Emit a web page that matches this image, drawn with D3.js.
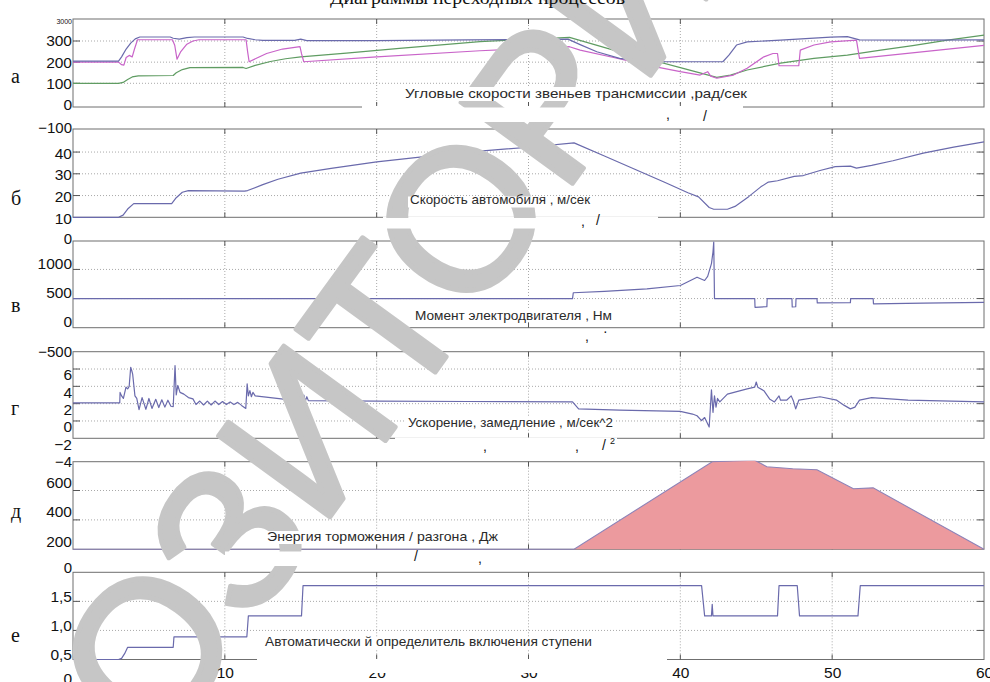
<!DOCTYPE html>
<html><head><meta charset="utf-8">
<script src="https://cdn.jsdelivr.net/npm/d3@7/dist/d3.min.js"></script>
<style>
html,body{margin:0;padding:0;background:#fff;}
svg{display:block;}
</style></head>
<body>
<svg id="chart" width="990" height="682"></svg>
<script>
// ================= DATA =================
const timeTicks = [10, 20, 30, 40, 50, 60];
const gridTimes = [10, 20, 30, 40, 50];
const panelLetters = ["а", "б", "в", "г", "д", "е"];
const panelCaptions = [
  "Угловые скорости звеньев трансмиссии ,рад/сек",
  "Скорость автомобиля , м/сек",
  "Момент электродвигателя , Нм",
  "Ускорение, замедление , м/сек^2",
  "Энергия торможения / разгона , Дж",
  "Автоматически й определитель включения ступени"
];
const topStrayLabels = ["3000", "−100", "0", "−500", "−4", "0"];

// panel а : angular speeds [time s, rad/s]
const omegaTicks = [0, 100, 200, 300];
const omegaBlue = [[0,205],[3.0,205],[3.2,225],[3.5,262],[3.8,290],[4.1,310],[4.4,319],[6.4,319],[6.6,313],[7.0,309],[7.5,316],[8.0,319],[11.2,319],[11.5,312],[12.0,306],[12.5,303],[14.6,303],[15.0,309],[15.4,302],[20,302],[26,305],[31,308],[32.6,309],[33.4,283],[34.5,249],[36.0,218],[37.4,205],[39.1,202],[42.8,202],[43.2,233],[43.7,281],[44.4,296],[46.6,304],[49.9,318],[51.0,321],[51.8,305],[55.3,304],[60,305]];
const omegaMagenta = [[0,200],[3.0,200],[3.2,188],[3.35,186],[3.5,222],[3.7,232],[3.9,225],[4.05,262],[4.25,306],[6.55,306],[6.7,280],[6.85,214],[7.1,250],[7.5,285],[7.9,300],[8.3,306],[11.4,306],[11.5,250],[11.6,202],[12.75,241],[13.8,262],[14.95,273],[15.05,240],[15.2,202],[20,225],[26.8,254],[32.7,273],[33.4,257],[35.6,222],[37.8,186],[40,155],[41.3,139],[41.8,155],[42.0,134],[42.4,124],[43.5,139],[44.4,171],[45.5,225],[46.1,241],[46.4,241],[46.5,183],[47.8,183],[47.9,257],[48.8,281],[49.9,296],[51.6,304],[51.8,218],[60,279]];
const omegaGreen = [[0,100],[3.0,100],[3.3,104],[3.6,118],[3.9,130],[4.3,135],[6.6,137],[6.8,150],[7.2,165],[7.7,174],[11.2,175],[11.4,170],[12.0,185],[13.0,203],[14.0,216],[15.0,225],[18,243],[21.5,265],[26.8,297],[32.7,317],[35.6,257],[37.8,216],[40,174],[42.4,128],[43.3,139],[44.4,163],[46.6,195],[48.8,218],[51,233],[53.2,257],[55.3,278],[57.6,304],[60,328]];

// panel б : vehicle speed
const speedTicks = [10, 20, 30, 40];
const carSpeed = [[0,10],[3.0,10],[3.3,11],[3.6,13.8],[4.0,16.3],[6.5,16.3],[6.8,19],[7.2,21.5],[7.6,22.3],[11.3,22],[11.5,22.3],[12.5,25],[13.5,27.5],[15,30.3],[17,32.5],[20,35.5],[23,37.8],[26,40],[30,42.2],[33,44.2],[35,38.2],[37,32.1],[39,26],[40.5,21.3],[41.2,19.4],[41.9,14.5],[42.2,13.7],[43.1,13.7],[43.6,15],[44.5,19.5],[45.3,24],[45.8,26.2],[46.4,26.8],[47.5,28.8],[48.1,29.2],[49.2,31.5],[50.2,33.3],[51.2,33.5],[51.6,32.6],[52.6,33.9],[54,36],[56,39.5],[58,42.3],[60,44.7]];

// panel в : motor torque
const torqueTicks = [0, 500, 1000];
const motorTorque = [[0,500],[32.9,500],[32.95,600],[35,625],[37.8,667],[40,724],[41.1,867],[41.6,810],[41.8,880],[42.05,1100],[42.15,1300],[42.2,1470],[42.25,500],[44.9,500],[44.92,350],[45.7,362],[45.72,500],[47.35,500],[47.37,355],[47.6,360],[47.62,500],[49.0,500],[49.02,425],[51.2,430],[51.22,500],[52.7,500],[52.72,410],[56,422],[60,436]];

// panel г : acceleration
const accelTicks = [-2, 0, 2, 4, 6];
const acceleration = [[0,2.1],[3.08,2.1],[3.1,3.3],[3.2,2.9],[3.32,2.6],[3.49,3.9],[3.6,3.7],[3.7,4.0],[3.8,6.2],[3.87,5.8],[3.93,5.4],[4.08,2.9],[4.2,2.6],[4.35,1.3],[4.55,2.7],[4.8,1.35],[5.0,2.6],[5.2,1.45],[5.45,2.5],[5.65,1.55],[5.85,2.45],[6.05,1.6],[6.25,2.4],[6.45,1.7],[6.6,1.65],[6.72,6.4],[6.8,3.0],[6.9,4.1],[7.05,3.3],[7.3,3.1],[7.6,2.7],[7.9,2.55],[8.1,1.9],[8.35,2.3],[8.6,1.85],[8.85,2.3],[9.1,1.85],[9.35,2.3],[9.6,1.9],[9.85,2.25],[10.1,1.9],[10.35,2.2],[10.6,1.9],[10.85,2.15],[11.1,1.8],[11.38,1.45],[11.47,4.3],[11.55,2.9],[11.65,3.5],[11.75,2.8],[11.85,3.3],[12.0,2.9],[13,2.7],[14,2.5],[14.6,2.4],[14.95,1.8],[15.1,2.0],[15.2,3.0],[15.3,2.3],[15.4,2.8],[15.5,2.35],[20,2.3],[26,2.25],[32.9,2.2],[33.3,1.4],[36,1.25],[40,1.1],[40.8,0.8],[41.1,0.6],[41.4,0.05],[41.6,0.4],[41.9,-0.7],[42.05,3.6],[42.15,1.0],[42.25,2.9],[42.35,1.6],[42.45,2.6],[42.6,2.2],[43.1,3.1],[44.4,3.7],[44.9,3.9],[45.0,4.5],[45.1,3.9],[45.5,3.5],[45.9,2.5],[46.2,2.2],[46.5,2.9],[46.6,2.4],[47.0,2.4],[47.3,2.9],[47.45,2.3],[47.6,1.4],[47.8,2.4],[49.2,2.8],[50.3,2.4],[50.8,1.8],[51.2,1.4],[51.5,1.6],[51.8,2.4],[52.6,2.7],[55,2.4],[60,2.2]];

// panel д : braking / acceleration energy
const energyTicks = [200, 400, 600];
const brakingEnergy = [[0,200],[33.0,200],[42.1,796],[44.9,806],[45.7,762],[47.4,748],[49.0,741],[51.4,612],[52.7,618],[60,200]];

// panel е : automatic gear selector
const gearTicks = [0.5, 1.0, 1.5];
const gearTickLabels = ["0,5", "1,0", "1,5"];
const gearSelector = [[0,0.5],[3.0,0.5],[3.2,0.52],[3.4,0.6],[3.6,0.71],[6.6,0.71],[6.65,0.89],[11.45,0.89],[11.55,1.25],[15.05,1.25],[15.15,1.77],[41.4,1.77],[41.6,1.25],[42.05,1.25],[42.1,1.45],[42.15,1.25],[46.4,1.25],[46.5,1.77],[47.7,1.77],[47.85,1.25],[51.7,1.25],[51.85,1.77],[60,1.77]];

// ================= LAYOUT / STYLE =================
const FONT = "'Liberation Sans', Arial, Helvetica, sans-serif";
const SERIF = "'Liberation Serif', 'Times New Roman', serif";
const BLUE = "#6a6aac", MAGENTA = "#c964c9", GREEN = "#5f9c62";

const panels = [
  { top:19, bottom:107, domain:[-12,404], ticks:omegaTicks, fmt:String, grid:[100,200,300], dy:0,
    series:[{d:omegaGreen,c:GREEN},{d:omegaMagenta,c:MAGENTA},{d:omegaBlue,c:BLUE}],
    letterY:83, cap:{x:405,y:98,w:342}, capBg:[403,87,346,14], strip:[362,106,381,16],
    stray:[[",",666,119],["/",703,121]], topLbl:{size:7,dy:3} },
  { top:129, bottom:217.3, domain:[10,50.6], ticks:speedTicks, fmt:String, grid:[20,30,40], dy:1,
    series:[{d:carSpeed,c:BLUE}],
    letterY:205, cap:{x:410,y:204,w:180}, capBg:[408,196.5,184,11], strip:[383,216.5,275,12],
    stray:[[",",581,226],["/",596,225]], topLbl:{size:15,dy:-1} },
  { top:241, bottom:327.7, domain:[0,1488], ticks:torqueTicks, fmt:String, grid:[500,1000], dy:-6,
    series:[{d:motorTorque,c:BLUE}],
    letterY:312, cap:{x:415,y:320,w:197}, capBg:[413,310,201,12], strip:null,
    stray:[[",",585,341],["·",603,336]], topLbl:{size:15,dy:-2} },
  { top:351.7, bottom:438.3, domain:[-2,8], ticks:accelTicks, fmt:d=>d<0?"−"+(-d):String(d), grid:[0,2,4,6], dy:6,
    series:[{d:acceleration,c:BLUE}],
    letterY:415, cap:{x:408,y:427,w:205}, capBg:[406,416,209,13], strip:[395,437.5,222,15],
    stray:[[",",483,451],[",",575,451],["/",602,450]], topLbl:{size:15,dy:0} },
  { top:461.7, bottom:549.3, domain:[200,796], ticks:energyTicks, fmt:String, grid:[400,600], dy:-8,
    series:[], area:brakingEnergy,
    letterY:518, cap:{x:267,y:541,w:231}, capBg:[265,531,235,13], strip:[225,550,318,16],
    stray:[["/",414,561],[",",478,563]], topLbl:{size:15,dy:0} },
  { top:572.3, bottom:659.5, domain:[0.5,2.0], ticks:gearTicks, fmt:(d,i)=>gearTickLabels[i], grid:[1.0,1.5], dy:-5,
    series:[{d:gearSelector,c:BLUE}],
    letterY:642, cap:{x:265,y:646,w:327}, capBg:[263,637,331,12], strip:[257,659,410,14],
    stray:[], topLbl:{size:15,dy:-5} }
];

// ================= DRAW =================
const svg = d3.select("#chart");
const x = d3.scaleLinear().domain([0, 60]).range([73, 984]);
const defs = svg.append("defs");
const plotLayer = svg.append("g");
const markLayer = svg.append("g");
const textLayer = svg.append("g");

// document title above the chart (cut off by the top edge in the source scan)
textLayer.append("text").attr("x", 330).attr("y", 4).attr("font-family", SERIF).attr("font-size", 18)
  .attr("textLength", 295).attr("lengthAdjust", "spacingAndGlyphs")
  .attr("fill", "#111").text("Диаграммы переходных процессов");

panels.forEach((p, i) => {
  const y = d3.scaleLinear().domain(p.domain).range([p.bottom, p.top]);
  const g = plotLayer.append("g");
  const t = textLayer.append("g");

  // grid
  g.selectAll("line.hg").data(p.grid).join("line").attr("class","hg")
    .attr("x1", x(0)).attr("x2", x(60)).attr("y1", d => y(d)).attr("y2", d => y(d))
    .attr("stroke", "#a9a9a9").attr("stroke-dasharray", "1,2");
  g.selectAll("line.vg").data(gridTimes).join("line").attr("class","vg")
    .attr("x1", d => x(d)).attr("x2", d => x(d)).attr("y1", p.top).attr("y2", p.bottom)
    .attr("stroke", "#a9a9a9").attr("stroke-dasharray", "1,2");

  // frame
  g.append("rect").attr("x", x(0)).attr("y", p.top).attr("width", x(60) - x(0)).attr("height", p.bottom - p.top)
    .attr("fill", "none").attr("stroke", "#6f6f6f").attr("stroke-width", 1);
  g.selectAll("line.tt").data(gridTimes).join("line").attr("class","tt")
    .attr("x1", d => x(d)).attr("x2", d => x(d)).attr("y1", p.top).attr("y2", p.top + 5).attr("stroke", "#555");
  g.selectAll("line.tb").data(gridTimes).join("line").attr("class","tb")
    .attr("x1", d => x(d)).attr("x2", d => x(d)).attr("y1", p.bottom - 5).attr("y2", p.bottom).attr("stroke", "#555");
  g.selectAll("line.tl").data(p.grid).join("line").attr("class","tl")
    .attr("x1", x(0)).attr("x2", x(0) + 7).attr("y1", d => y(d)).attr("y2", d => y(d)).attr("stroke", "#555");
  g.selectAll("line.tr").data(p.grid).join("line").attr("class","tr")
    .attr("x1", x(60) - 7).attr("x2", x(60)).attr("y1", d => y(d)).attr("y2", d => y(d)).attr("stroke", "#555");

  // white text-box strips from the document that hide parts of the frame
  if (p.strip) g.append("rect").attr("x", p.strip[0]).attr("y", p.strip[1]).attr("width", p.strip[2]).attr("height", p.strip[3]).attr("fill", "#fff");

  // data
  const cid = "clip" + i;
  defs.append("clipPath").attr("id", cid).append("rect")
    .attr("x", x(0)).attr("y", p.top - 1).attr("width", x(60) - x(0) + 1).attr("height", p.bottom - p.top + 2);
  const dg = g.append("g").attr("clip-path", `url(#${cid})`);
  if (p.area) {
    const area = d3.area().x(d => x(d[0])).y0(y(p.domain[0])).y1(d => y(d[1]));
    dg.append("path").datum(p.area).attr("d", area).attr("fill", "#ec9a9e").attr("stroke", "none");
    dg.append("path").datum(p.area).attr("d", d3.line().x(d => x(d[0])).y(d => y(d[1])))
      .attr("fill", "none").attr("stroke", "#8d83b8").attr("stroke-width", 1.1);
  }
  const line = d3.line().x(d => x(d[0])).y(d => y(d[1]));
  p.series.forEach(s => {
    dg.append("path").datum(s.d).attr("d", line).attr("fill", "none")
      .attr("stroke", s.c).attr("stroke-width", 1.2).attr("stroke-linejoin", "round");
  });

  // ---------- text layer (document text boxes over the image) ----------
  const ax = d3.axisLeft(y).tickValues(p.ticks).tickSize(0).tickPadding(1).tickFormat(p.fmt);
  const ag = t.append("g").attr("transform", `translate(${x(0)},0)`).call(ax);
  ag.select(".domain").remove();
  ag.selectAll("text").attr("font-family", FONT).attr("font-size", 15.5).attr("fill", "#111")
    .attr("dy", (0.32 * 15.5 + p.dy) + "px");

  t.append("text").attr("x", 72).attr("y", p.top + 0.35 * p.topLbl.size + p.topLbl.dy)
    .attr("text-anchor", "end").attr("font-family", FONT).attr("font-size", p.topLbl.size)
    .attr("fill", "#111").text(topStrayLabels[i]);

  t.append("text").attr("x", 11).attr("y", p.letterY).attr("font-family", SERIF).attr("font-size", 20)
    .attr("fill", "#111").text(panelLetters[i]);

  if (p.strip) t.append("rect").attr("x", p.strip[0]).attr("y", p.strip[1] + 1.5).attr("width", p.strip[2]).attr("height", p.strip[3] - 1.5).attr("fill", "#fff");
  t.append("rect").attr("x", p.capBg[0]).attr("y", p.capBg[1]).attr("width", p.capBg[2]).attr("height", p.capBg[3]).attr("fill", "#fff");
  t.append("text").attr("x", p.cap.x).attr("y", p.cap.y).attr("font-family", FONT).attr("font-size", 13)
    .attr("textLength", p.cap.w).attr("lengthAdjust", "spacingAndGlyphs")
    .attr("fill", "#2a2a2a").text(panelCaptions[i]);

  p.stray.forEach(s => {
    t.append("text").attr("x", s[1]).attr("y", s[2]).attr("font-family", FONT).attr("font-size", 14)
      .attr("fill", "#111").text(s[0]);
  });
  if (i === 3) {
    t.append("text").attr("x", 610).attr("y", 444).attr("font-family", FONT).attr("font-size", 9)
      .attr("fill", "#111").text("2");
  }

  if (i === panels.length - 1) {
    const bx = d3.axisBottom(x).tickValues(timeTicks).tickSize(0).tickPadding(7);
    const bg = t.append("g").attr("transform", `translate(0,${p.bottom})`).call(bx);
    bg.select(".domain").remove();
    bg.selectAll("text").attr("font-family", FONT).attr("font-size", 15.5).attr("fill", "#111");
    t.append("text").attr("x", 72).attr("y", 684).attr("text-anchor", "end").attr("font-family", FONT)
      .attr("font-size", 15.5).attr("fill", "#111").text("0");
    t.append("rect").attr("x", 257).attr("y", 660).attr("width", 410).attr("height", 13).attr("fill", "#fff");
  }
});

// watermark (between the plotted image and the document text boxes)
markLayer.append("text")
  .attr("transform", "translate(307,430) rotate(-54)")
  .attr("text-anchor", "middle").attr("dominant-baseline", "central")
  .attr("font-family", FONT).attr("font-size", 200)
  .attr("fill", "#c6c6c6").attr("stroke", "#c6c6c6").attr("stroke-width", 5)
  .attr("stroke-linejoin", "round")
  .text("РЕПОЗИТОРИЙ");
</script>
</body></html>
